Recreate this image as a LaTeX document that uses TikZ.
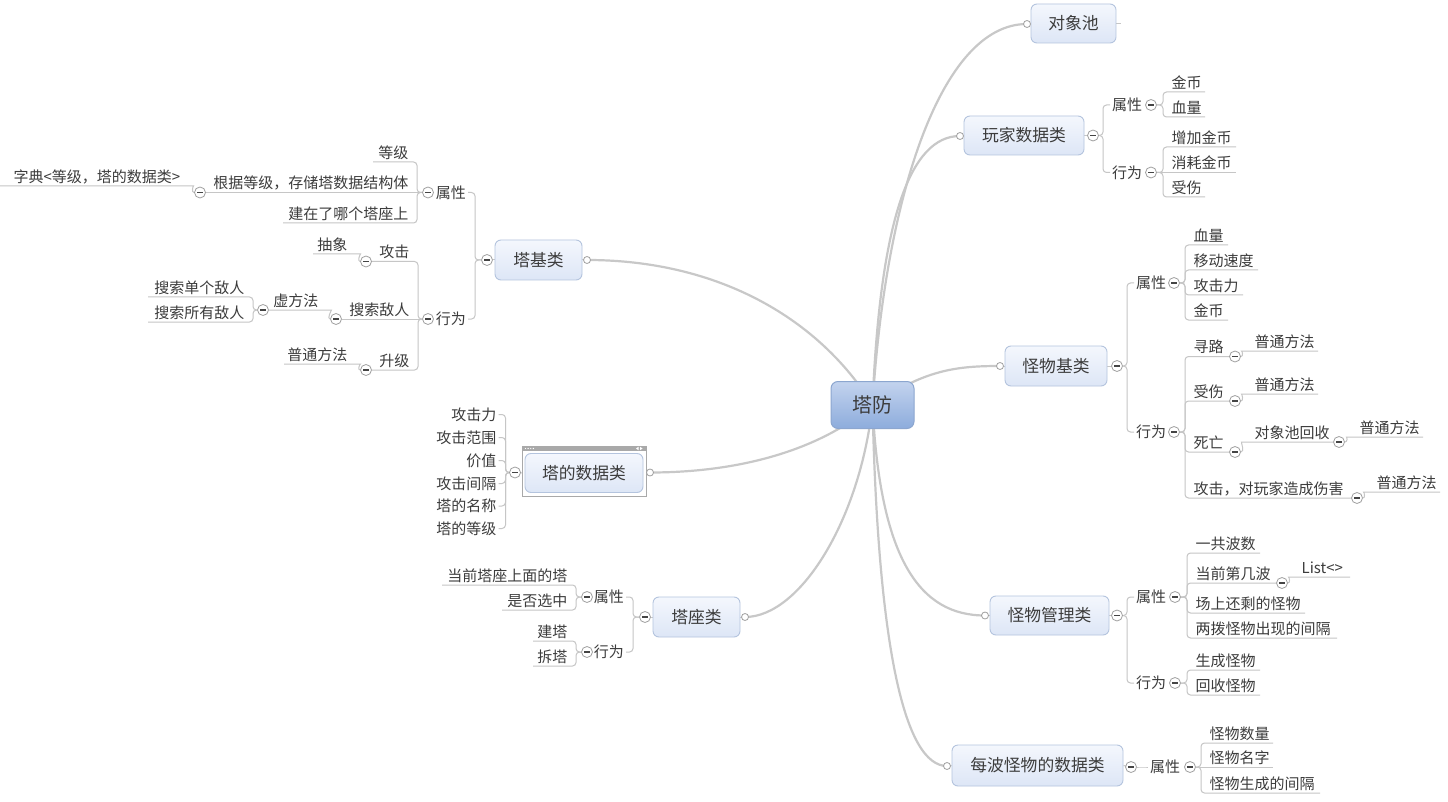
\documentclass[tikz,border=0pt]{standalone}
\usepackage{fontspec}
\setmainfont{Noto Sans CJK SC}
\usetikzlibrary{calc}
\pgfdeclarelayer{bg}
\pgfsetlayers{bg,main}
\definecolor{tc}{HTML}{3C3C3C}
\definecolor{lc}{HTML}{C6C6C6}
\definecolor{mc}{HTML}{C8C8C8}
\definecolor{bc}{HTML}{B4C4DE}
\definecolor{bt}{HTML}{F4F7FD}
\definecolor{bb}{HTML}{DDE6F6}
\definecolor{rb}{HTML}{8CA6CF}
\definecolor{rt}{HTML}{C3D3EE}
\definecolor{rbb}{HTML}{8DACDC}
\definecolor{cc}{HTML}{A0A0A0}
\definecolor{dk}{HTML}{444444}
\definecolor{fr}{HTML}{A9A9A9}
\newcommand\lff{\fontsize{15}{18}\selectfont}
\newcommand\bff{\fontsize{16.8}{20}\selectfont}
\newcommand\rff{\fontsize{20}{24}\selectfont}
\tikzset{
  sub/.style={draw=lc, line width=1pt, rounded corners=3.5pt},
  mainc/.style={draw=mc, line width=2.2pt},
  lf/.style={inner xsep=2pt, inner ysep=0pt, text=tc, font=\lff, text height=13pt, text depth=1.5pt},
  topic/.style={rounded corners=6pt, draw=bc, line width=0.9pt, top color=bt, bottom color=bb, inner sep=0pt, text=tc, font=\bff, text height=14.5pt, text depth=1.7pt},
  rootbox/.style={rounded corners=7pt, draw=rb, line width=1pt, top color=rt, bottom color=rbb, inner sep=0pt, text=tc, font=\rff, text height=17.2pt, text depth=2pt, minimum width=83pt, minimum height=47pt},
  mn/.style={circle, draw=cc, fill=white, minimum size=11pt, inner sep=0pt, line width=0.8pt,
    path picture={\draw[line width=1.3pt, draw=dk] ([xshift=-2.6pt]path picture bounding box.center) -- ([xshift=2.6pt]path picture bounding box.center);}},
  an/.style={circle, draw=cc, fill=white, minimum size=7pt, inner sep=0pt, line width=0.8pt},
}
% right side helpers
\newcommand\rleaf[6]{\node[lf,anchor=west] (#1) at (#3+6.5,#4-9.5) {#6};
  \begin{pgfonlayer}{bg}\draw[sub] (#2.east) -- (#2.east -| #3,0) -- (#3,#4) -- (#5,#4);\end{pgfonlayer}}
\newcommand\rstr[6]{\node[lf,anchor=west] (#1) at (#3+6.5,#4-9.5) {#6};
  \begin{pgfonlayer}{bg}\draw[sub] (#2.east) -- (#5,#4);\end{pgfonlayer}}
\newcommand\rmid[5]{\node[lf,anchor=west] (#1) at (#3+7,#4) {#5};
  \begin{pgfonlayer}{bg}\draw[sub] (#2.east) -- (#2.east -| #3,0) -- (#3,#4) -- (#1.west);\end{pgfonlayer}}
\newcommand\rwig[6]{\node[lf,anchor=west] (#1) at (#3+7.5,#4-9.5) {#6};
  \begin{pgfonlayer}{bg}\draw[sub] (#2.east) to[out=0,in=180] (#3,#4) -- (#5,#4);\end{pgfonlayer}}
% left side helpers
\newcommand\lleaf[6]{\node[lf,anchor=east] (#1) at (#3-6.5,#4-9.5) {#6};
  \begin{pgfonlayer}{bg}\draw[sub] (#2.west) -- (#2.west -| #3,0) -- (#3,#4) -- (#5,#4);\end{pgfonlayer}}
\newcommand\lstr[6]{\node[lf,anchor=east] (#1) at (#3-6.5,#4-9.5) {#6};
  \begin{pgfonlayer}{bg}\draw[sub] (#2.west) -- (#5,#4);\end{pgfonlayer}}
\newcommand\lmid[5]{\node[lf,anchor=east] (#1) at (#3-7,#4) {#5};
  \begin{pgfonlayer}{bg}\draw[sub] (#2.west) -- (#2.west -| #3,0) -- (#3,#4) -- (#1.east);\end{pgfonlayer}}
\newcommand\lwig[6]{\node[lf,anchor=east] (#1) at (#3-7.5,#4-9.5) {#6};
  \begin{pgfonlayer}{bg}\draw[sub] (#2.west) to[out=180,in=0] (#3,#4) -- (#5,#4);\end{pgfonlayer}}
\begin{document}
\begin{tikzpicture}[x=1pt,y=-1pt]
\useasboundingbox (0,0) rectangle (1448,802);
\begin{pgfonlayer}{bg}\fill[white] (0,0) rectangle (1448,802);\end{pgfonlayer}

% ---------- root and topics ----------
\node[rootbox] (root) at (872.5,405) {塔防};
\node[topic,minimum width=85pt,minimum height=39pt] (dxc) at (1073.5,23.5) {对象池};
\node[topic,minimum width=120pt,minimum height=39pt] (wj) at (1024,135.5) {玩家数据类};
\node[topic,minimum width=102pt,minimum height=40pt] (gw) at (1056,366) {怪物基类};
\node[topic,minimum width=119pt,minimum height=39pt] (gl) at (1049.5,615.5) {怪物管理类};
\node[topic,minimum width=171pt,minimum height=41pt] (mb) at (1037.5,765.5) {每波怪物的数据类};
\node[topic,minimum width=87pt,minimum height=40pt] (tj) at (538.5,260) {塔基类};
\draw[draw=fr,fill=white,line width=0.8pt] (522,446) rectangle (646,496);
\fill[fr] (522,446) rectangle (646,451);
\foreach \i in {0,1,2,3} \fill[white] (525.5+\i*2.6,448.5) circle (0.7);
\fill[white] (636,448.5) -- (638.5,446.8) -- (638.5,450.2) -- cycle;
\fill[white] (642.5,448.5) -- (640,446.8) -- (640,450.2) -- cycle;
\node[topic,minimum width=118pt,minimum height=39pt] (ts) at (584,473) {塔的数据类};
\node[topic,minimum width=87pt,minimum height=40pt] (tz) at (696.5,617) {塔座类};

% attach circles
\node[an] (a1) at (1027,24) {};
\node[an] (a2) at (960,136) {};
\node[an] (a3) at (1000,366) {};
\node[an] (a4) at (985,615.5) {};
\node[an] (a5) at (947,766) {};
\node[an] (a6) at (587,260) {};
\node[an] (a7) at (650,472.5) {};
\node[an] (a8) at (745,617) {};

% collapse markers of topics
\node[mn] (mwj) at (1093,135.5) {};
\node[mn] (mgw) at (1117,366) {};
\node[mn] (mgl) at (1117,615.5) {};
\node[mn] (mmb) at (1131,767) {};
\node[mn] (mtj) at (487,260) {};
\node[mn] (mts) at (515,472.5) {};
\node[mn] (mtz) at (645,617) {};

\begin{pgfonlayer}{bg}
\draw[mainc] (root.center) .. controls (885,200) and (940,24) .. (a1.center);
\draw[mainc] (root.center) .. controls (880,220) and (910,136) .. (a2.center);
\draw[mainc] (root.center) .. controls (925,370) and (955,366) .. (a3.center);
\draw[mainc] (root.center) .. controls (880,560) and (920,615.5) .. (a4.center);
\draw[mainc] (root.center) .. controls (878,650) and (905,766) .. (a5.center);
\draw[mainc] (root.center) .. controls (820,320) and (720,260) .. (a6.center);
\draw[mainc] (root.center) .. controls (820,450) and (740,472.5) .. (a7.center);
\draw[mainc] (root.center) .. controls (860,520) and (800,617) .. (a8.center);
\draw[sub] (a1.center) -- (dxc.west);
\draw[sub] (a2.center) -- (wj.west);
\draw[sub] (a3.center) -- (gw.west);
\draw[sub] (a4.center) -- (gl.west);
\draw[sub] (a5.center) -- (mb.west);
\draw[sub] (a6.center) -- (tj.east);
\draw[sub] (a7.center) -- (ts.east);
\draw[sub] (a8.center) -- (tz.east);
\draw[sub] (wj.east) -- (mwj.center);
\draw[sub] (gw.east) -- (mgw.center);
\draw[sub] (gl.east) -- (mgl.center);
\draw[sub] (mb.east) -- (mmb.center);
\draw[sub] (tj.west) -- (mtj.center);
\draw[sub] (ts.west) -- (mts.center);
\draw[sub] (tz.west) -- (mtz.center);
\draw[sub] (dxc.east) -- ++(5,0);
\end{pgfonlayer}

% ---------- 玩家数据类 ----------
\rmid{wjsx}{mwj}{1103}{105}{属性}
\rmid{wjxw}{mwj}{1103}{172.5}{行为}
\node[mn] (mwjsx) at (1151,105) {};
\node[mn] (mwjxw) at (1151,172.5) {};
\rleaf{jb}{mwjsx}{1163}{92}{1205}{金币}
\rleaf{xl}{mwjsx}{1163}{117}{1205}{血量}
\rleaf{zj}{mwjxw}{1163}{147}{1236}{增加金币}
\rstr{xh}{mwjxw}{1163}{172.5}{1236}{消耗金币}
\rleaf{ss}{mwjxw}{1163}{197}{1205}{受伤}

% ---------- 怪物基类 ----------
\rmid{gwsx}{mgw}{1127}{283}{属性}
\rmid{gwxw}{mgw}{1127}{432}{行为}
\node[mn] (mgwsx) at (1174,283) {};
\node[mn] (mgwxw) at (1174,432) {};
\rleaf{ga}{mgwsx}{1185}{245}{1228}{血量}
\rleaf{gb}{mgwsx}{1185}{270}{1258}{移动速度}
\rleaf{gc}{mgwsx}{1185}{295}{1243}{攻击力}
\rleaf{gd}{mgwsx}{1185}{320}{1228}{金币}
\rleaf{xlu}{mgwxw}{1185}{356.5}{1229.5}{寻路}
\node[mn] (mxlu) at (1235,356.5) {};
\rwig{pta}{mxlu}{1245}{351}{1318}{普通方法}
\rleaf{gss}{mgwxw}{1185}{401}{1229.5}{受伤}
\node[mn] (mgss) at (1235,401) {};
\rwig{ptb}{mgss}{1245}{394}{1318}{普通方法}
\rleaf{sw}{mgwxw}{1185}{452}{1229.5}{死亡}
\node[mn] (msw) at (1235,452) {};
\rwig{dxh}{msw}{1245}{442}{1333.5}{对象池回收}
\node[mn] (mdxh) at (1339,442) {};
\rwig{ptc}{mdxh}{1350}{437}{1423}{普通方法}
\rleaf{gj}{mgwxw}{1185}{498}{1351.5}{攻击，对玩家造成伤害}
\node[mn] (mgj) at (1357,498) {};
\rwig{ptd}{mgj}{1367}{492}{1440}{普通方法}

% ---------- 怪物管理类 ----------
\rmid{glsx}{mgl}{1127}{597}{属性}
\rmid{glxw}{mgl}{1127}{683}{行为}
\node[mn] (mglsx) at (1175,597) {};
\node[mn] (mglxw) at (1175,683) {};
\rleaf{la}{mglsx}{1187}{553}{1260}{一共波数}
\rleaf{lb}{mglsx}{1187}{583}{1276.5}{当前第几波}
\node[mn] (mlb) at (1282,583) {};
\rwig{lst}{mlb}{1292}{577}{1350}{List<>}
\rleaf{lc}{mglsx}{1187}{613}{1305}{场上还剩的怪物}
\rleaf{ld}{mglsx}{1187}{638}{1337}{两拨怪物出现的间隔}
\rleaf{le}{mglxw}{1187}{670}{1260}{生成怪物}
\rleaf{lf}{mglxw}{1187}{695}{1260}{回收怪物}

% ---------- 每波怪物的数据类 ----------
\node[lf,anchor=west] (mbsx) at (1148,767) {属性};
\begin{pgfonlayer}{bg}\draw[sub] (mmb.east) to[out=0,in=180] (mbsx.west);\end{pgfonlayer}
\node[mn] (mmbsx) at (1190,767) {};
\rleaf{wa}{mmbsx}{1201}{743}{1273}{怪物数量}
\rstr{wb}{mmbsx}{1201}{767}{1273}{怪物名字}
\rleaf{wc}{mmbsx}{1201}{793}{1320}{怪物生成的间隔}

% ---------- 塔基类 ----------
\lmid{tjsx}{mtj}{475}{192.5}{属性}
\lmid{tjxw}{mtj}{475}{319}{行为}
\node[mn] (mtjsx) at (428,192.5) {};
\node[mn] (mtjxw) at (428,319) {};
\lleaf{ta}{mtjsx}{417}{162}{373}{等级}
\lstr{tb}{mtjsx}{417}{192.5}{205.5}{根据等级，存储塔数据结构体}
\node[mn] (mtb) at (200,192.5) {};
\lwig{tba}{mtb}{190}{186}{0}{字典<等级，塔的数据类>}
\lleaf{tc}{mtjsx}{417}{223}{283}{建在了哪个塔座上}
\lleaf{ba}{mtjxw}{418}{261.5}{371.5}{攻击}
\node[mn] (mba) at (366,261.5) {};
\lwig{baa}{mba}{357}{254}{313}{抽象}
\lstr{bb}{mtjxw}{418}{319}{341.5}{搜索敌人}
\node[mn] (mbb) at (336,319) {};
\lwig{bba}{mbb}{328}{310}{268.5}{虚方法}
\node[mn] (mbba) at (263,310) {};
\lleaf{ca}{mbba}{253}{297}{148}{搜索单个敌人}
\lleaf{cb}{mbba}{253}{322}{148}{搜索所有敌人}
\lleaf{bc}{mtjxw}{418}{370}{371.5}{升级}
\node[mn] (mbc) at (366,370) {};
\lwig{bca}{mbc}{357}{364}{284}{普通方法}

% ---------- 塔的数据类 ----------
\lmid{da}{mts}{505.5}{414.5}{攻击力}
\lmid{db}{mts}{505.5}{437.5}{攻击范围}
\lmid{dc}{mts}{505.5}{460.5}{价值}
\lmid{dd}{mts}{505.5}{483.5}{攻击间隔}
\lmid{de}{mts}{505.5}{506}{塔的名称}
\lmid{df}{mts}{505.5}{528.5}{塔的等级}

% ---------- 塔座类 ----------
\lmid{zsx}{mtz}{633}{597}{属性}
\lmid{zxw}{mtz}{633}{652}{行为}
\node[mn] (mzsx) at (587,597) {};
\node[mn] (mzxw) at (587,652) {};
\lleaf{za}{mzsx}{576}{585}{442}{当前塔座上面的塔}
\lleaf{zb}{mzsx}{576}{610}{502}{是否选中}
\lleaf{zc}{mzxw}{576}{641}{533}{建塔}
\lleaf{zd}{mzxw}{576}{666}{533}{拆塔}
\end{tikzpicture}
\end{document}
